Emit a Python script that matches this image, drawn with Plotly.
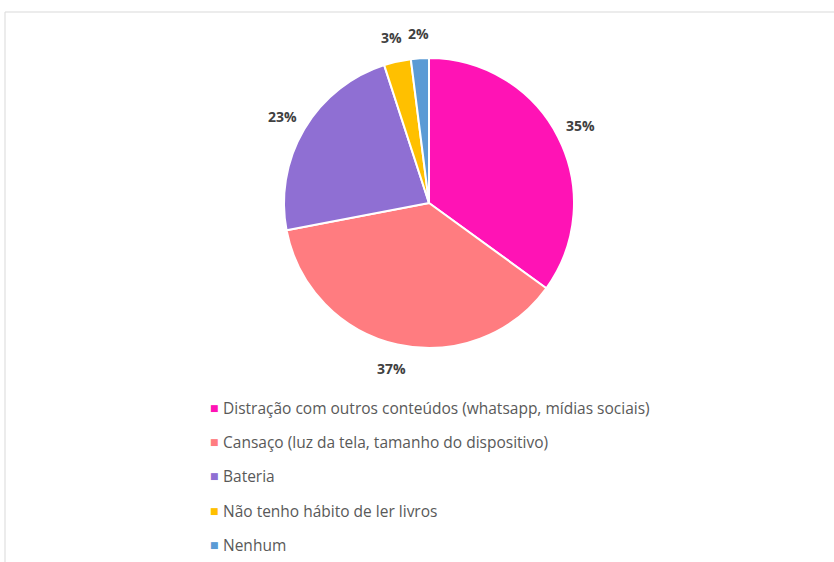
import math
import plotly.graph_objects as go

labels = [
    "Distração com outros conteúdos (whatsapp, mídias sociais)",
    "Cansaço (luz da tela, tamanho do dispositivo)",
    "Bateria",
    "Não tenho hábito de ler livros",
    "Nenhum",
]
values = [35, 37, 23, 3, 2]
colors = ["#FF13B5", "#FF7C80", "#8F6FD3", "#FFC000", "#5B9BD5"]

W, H = 834, 562
cx, cy, r = 429, 203, 145
label_r = 170

fig = go.Figure()
fig.add_trace(go.Pie(
    labels=labels,
    values=values,
    sort=False,
    direction="clockwise",
    rotation=0,
    marker=dict(colors=colors, line=dict(color="white", width=2)),
    textinfo="none",
    showlegend=False,
    domain=dict(x=[(cx - r) / W, (cx + r) / W], y=[1 - (cy + r) / H, 1 - (cy - r) / H]),
    hoverinfo="label+percent",
))

annotations = []
total = sum(values)
cum = 0
for v in values:
    mid = (cum + v / 2) / total * 2 * math.pi
    cum += v
    px = cx + label_r * math.sin(mid)
    py = cy - label_r * math.cos(mid)
    annotations.append(dict(
        x=px / W, y=1 - py / H, xref="paper", yref="paper",
        text=f"{round(v / total * 100)}%", showarrow=False,
        xanchor="center", yanchor="middle",
        font=dict(family="Open Sans", size=14, color="#404040", weight="bold"),
    ))

leg_x, leg_y0, leg_dy = 214, 408, 34.2
for i, (lab, col) in enumerate(zip(labels, colors)):
    yy = leg_y0 + i * leg_dy
    annotations.append(dict(
        x=leg_x / W, y=1 - yy / H, xref="paper", yref="paper",
        text="■", showarrow=False, xanchor="center", yanchor="middle",
        font=dict(family="DejaVu Sans", size=9, color=col),
    ))
    annotations.append(dict(
        x=(leg_x + 7) / W, y=1 - yy / H, xref="paper", yref="paper",
        text=lab, showarrow=False, xanchor="left", yanchor="middle",
        font=dict(family="Open Sans", size=15.5, color="#595959"),
    ))

fig.update_layout(
    width=W, height=H,
    margin=dict(l=0, r=0, t=0, b=0),
    paper_bgcolor="white", plot_bgcolor="white",
    annotations=annotations,
    shapes=[dict(type="rect", xref="paper", yref="paper",
                 x0=5 / W, x1=1.01, y0=-0.01, y1=1 - 12 / H,
                 line=dict(color="#D9D9D9", width=1))],
)

fig.write_html("out.html")
